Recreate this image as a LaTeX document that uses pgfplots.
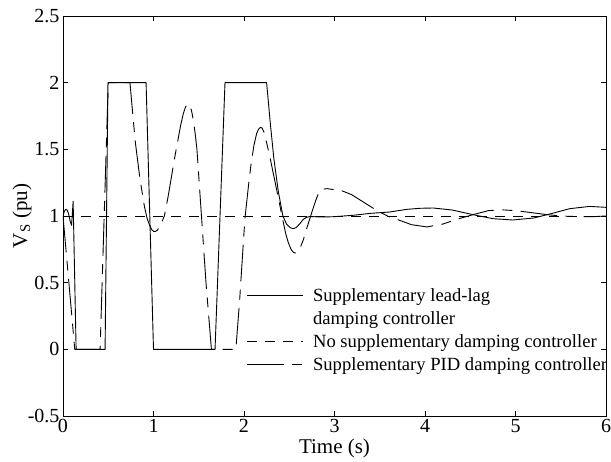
\documentclass[border=0pt]{standalone}
\usepackage{fontspec}
\setmainfont{Liberation Serif}
\usepackage{pgfplots}
\pgfplotsset{compat=1.18}
\begin{document}
\begin{tikzpicture}
\begin{axis}[
  scale only axis, width=543pt, height=400pt,
  xmin=0, xmax=6, ymin=-0.5, ymax=2.5,
  xtick={0,1,2,3,4,5,6},
  ytick={-0.5,0,0.5,1,1.5,2,2.5},
  tick align=inside, major tick length=5pt,
  axis line style={line width=0.8pt},
  every tick/.style={black, line width=0.8pt},
  /pgf/number format/assume math mode=true,
  tick label style={font=\fontsize{20}{24}\selectfont},
  label style={font=\fontsize{21}{25}\selectfont},
  xlabel={Time (s)},
  ylabel={V\textsubscript{S} (pu)},
  xlabel style={at={(axis description cs:0.5,-0.08)}, anchor=center},
  ylabel style={at={(axis description cs:-0.0755,0.5)}, anchor=center},
  legend cell align=left,
  legend style={draw=none, fill=none, inner sep=0pt,
    at={(axis description cs:0.3383,0.33)}, anchor=north west,
    font=\fontsize{18.6}{22}\selectfont,
    column sep=9.3pt, row sep=0pt,
    nodes={inner sep=0pt, text height=17.6pt, text depth=5.4pt}},
  legend image code/.code={\draw[#1] (0pt,0pt) -- (56pt,0pt);},
]
\addplot[black, line width=0.9pt, line join=round] coordinates {
 (0,1.0) (0.015,1.035) (0.03,1.05) (0.045,1.045) (0.06,1.02) (0.08,0.96) (0.095,0.93)
 (0.112,1.11) (0.145,0.0) (0.465,0.0) (0.497,2.0) (0.918,2.0) (1.0,0.0)
 (1.68,0.0) (1.79,2.0) (2.25,2.0) (2.29,1.7) (2.33,1.43) (2.38,1.18)
 (2.43,1.0) (2.47,0.94) (2.51,0.912) (2.545,0.905) (2.58,0.915) (2.62,0.945)
 (2.655,0.975) (2.69,0.99) (2.73,0.996)
 (2.8,0.994) (2.9,0.993) (3.0,0.995) (3.2,1.005) (3.4,1.02) (3.61,1.03)
 (3.8,1.05) (3.95,1.058) (4.09,1.06) (4.3,1.045) (4.53,1.01) (4.75,0.98)
 (4.97,0.97) (5.2,0.985) (5.38,1.015) (5.6,1.055) (5.82,1.072) (6.0,1.065)
};
\addlegendentry{Supplementary lead-lag}
\addlegendimage{empty legend}
\addlegendentry{damping controller}
\addplot[black, line width=0.9pt, dash pattern=on 10pt off 8pt] coordinates {
 (0,1) (6,1)
};
\addlegendentry{No supplementary damping controller}
\addplot[black, line width=0.9pt, line join=round, dash pattern=on 36.6pt off 8.3pt on 10pt off 8.3pt] coordinates {
 (0,1.0) (0.13,0.0) (0.41,0.0) (0.50,2.0) (0.74,2.0) (0.77,1.77) (0.8,1.55)
 (0.85,1.28) (0.9,1.07) (0.93,0.98) (0.96,0.925) (0.98,0.898) (1.0,0.885)
 (1.02,0.884) (1.04,0.892) (1.06,0.91) (1.08,0.935) (1.12,1.0) (1.16,1.14)
 (1.2,1.3) (1.24,1.46) (1.27,1.57) (1.30,1.68) (1.33,1.77) (1.355,1.82)
 (1.38,1.84) (1.40,1.83) (1.42,1.79) (1.44,1.72) (1.46,1.62) (1.48,1.5)
 (1.53,1.0) (1.58,0.5) (1.64,0.0) (1.91,0.0) (1.95,0.35) (2.01,0.98)
 (2.05,1.23) (2.08,1.4) (2.11,1.53) (2.14,1.62) (2.16,1.65) (2.18,1.665)
 (2.20,1.66) (2.22,1.63) (2.25,1.55) (2.29,1.43) (2.36,1.2) (2.42,1.0)
 (2.46,0.87) (2.49,0.8) (2.52,0.75) (2.545,0.728) (2.565,0.722) (2.59,0.73)
 (2.62,0.76) (2.655,0.82) (2.69,0.9) (2.76,1.05) (2.8,1.13) (2.83,1.18)
 (2.86,1.2) (2.92,1.205) (2.97,1.2) (3.06,1.195) (3.19,1.16) (3.33,1.1)
 (3.47,1.04) (3.6,0.995) (3.69,0.975) (3.85,0.935) (4.02,0.918) (4.2,0.94)
 (4.35,0.975) (4.53,1.01) (4.7,1.04) (4.83,1.047) (5.0,1.04) (5.18,1.025)
 (5.35,1.01) (5.5,1.0) (5.7,0.995) (5.85,0.995) (6.0,1.0)
};
\addlegendentry{Supplementary PID damping controller}
\end{axis}
\path (current axis.south west) +(-63pt,-45pt) coordinate (bbA);
\path (current axis.north east) +(5pt,16pt) coordinate (bbB);
\pgfresetboundingbox
\path (bbA) rectangle (bbB);
\end{tikzpicture}
\end{document}
